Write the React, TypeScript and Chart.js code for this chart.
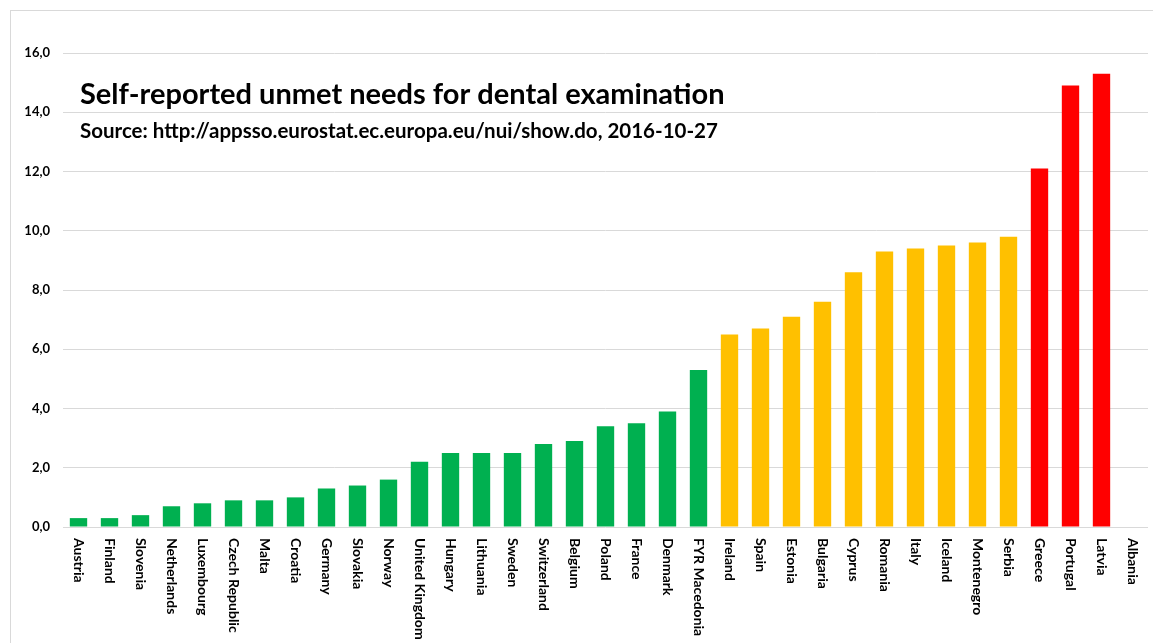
import React, { useEffect, useRef } from "react";
import { Chart, registerables } from "chart.js";

Chart.register(...registerables);

const countries: string[] = [
  "Austria", "Finland", "Slovenia", "Netherlands", "Luxembourg", "Czech Republic",
  "Malta", "Croatia", "Germany", "Slovakia", "Norway", "United Kingdom",
  "Hungary", "Lithuania", "Sweden", "Switzerland", "Belgium", "Poland",
  "France", "Denmark", "FYR Macedonia", "Ireland", "Spain", "Estonia",
  "Bulgaria", "Cyprus", "Romania", "Italy", "Iceland", "Montenegro",
  "Serbia", "Greece", "Portugal", "Latvia", "Albania",
];

const values: (number | null)[] = [
  0.3, 0.3, 0.4, 0.7, 0.8, 0.9,
  0.9, 1.0, 1.3, 1.4, 1.6, 2.2,
  2.5, 2.5, 2.5, 2.8, 2.9, 3.4,
  3.5, 3.9, 5.3, 6.5, 6.7, 7.1,
  7.6, 8.6, 9.3, 9.4, 9.5, 9.6,
  9.8, 12.1, 14.9, 15.3, null,
];

const yTickValues: number[] = [0, 2, 4, 6, 8, 10, 12, 14, 16];

const titleText = "Self-reported unmet needs for dental examination";
const subtitleText = "Source: http://appsso.eurostat.ec.europa.eu/nui/show.do, 2016-10-27";

const GREEN = "#00B050";
const YELLOW = "#FFC000";
const RED = "#FF0000";

function colorFor(v: number | null): string {
  if (v === null) return "rgba(0,0,0,0)";
  if (v < 6) return GREEN;
  if (v < 11) return YELLOW;
  return RED;
}

const FONT = "Lato, 'Open Sans', sans-serif";

const overlayPlugin = {
  id: "overlayText",
  afterDraw(chart: any) {
    const ctx = chart.ctx as CanvasRenderingContext2D;
    const xScale = chart.scales.x;
    const area = chart.chartArea;
    ctx.save();
    // x labels, rotated clockwise (read top to bottom)
    ctx.fillStyle = "#000";
    ctx.font = `bold 14px ${FONT}`;
    ctx.textAlign = "left";
    ctx.textBaseline = "middle";
    countries.forEach((name, i) => {
      const x = xScale.getPixelForValue(i);
      ctx.save();
      ctx.translate(x, area.bottom + 11);
      ctx.rotate(Math.PI / 2);
      ctx.fillText(name, 0, 0);
      ctx.restore();
    });
    // title + subtitle
    ctx.textAlign = "left";
    ctx.textBaseline = "alphabetic";
    ctx.font = `bold 29px ${FONT}`;
    ctx.fillText(titleText, 69, 93);
    ctx.font = `bold 20.5px ${FONT}`;
    ctx.fillText(subtitleText, 69, 127);
    ctx.restore();
  },
};

export default function App() {
  const canvasRef = useRef<HTMLCanvasElement | null>(null);

  useEffect(() => {
    if (!canvasRef.current) return;
    const chart = new Chart(canvasRef.current, {
      type: "bar",
      data: {
        labels: countries,
        datasets: [
          {
            data: values,
            backgroundColor: values.map(colorFor),
            borderWidth: 0,
            barPercentage: 0.56,
            categoryPercentage: 1,
          },
        ],
      },
      options: {
        animation: false,
        responsive: false,
        maintainAspectRatio: false,
        layout: { padding: { left: 0, right: 5, top: 42, bottom: 116 } },
        plugins: {
          legend: { display: false },
          tooltip: { enabled: false },
        },
        scales: {
          x: {
            display: false,
          },
          y: {
            min: 0,
            max: 16,
            afterBuildTicks: (scale: any) => {
              scale.ticks = yTickValues.map((v) => ({ value: v }));
            },
            afterFit: (scale: any) => {
              scale.width = 52;
            },
            border: { display: false },
            grid: { color: "#d9d9d9", lineWidth: 1, drawTicks: false },
            ticks: {
              padding: 13,
              color: "#000",
              font: { family: FONT, size: 13, weight: "bold" },
              callback: (v: any) => Number(v).toFixed(1).replace(".", ","),
            },
          },
        },
      },
      plugins: [overlayPlugin],
    });
    return () => chart.destroy();
  }, []);

  return (
    <div
      style={{
        position: "absolute",
        left: 10,
        top: 10,
        width: 1143,
        height: 633,
        borderLeft: "1px solid #d9d9d9",
        borderTop: "1px solid #d9d9d9",
        background: "#fff",
      }}
    >
      <canvas
        ref={canvasRef}
        width={1142}
        height={632}
        style={{ position: "absolute", left: 0, top: 0, width: 1142, height: 632 }}
      />
    </div>
  );
}
